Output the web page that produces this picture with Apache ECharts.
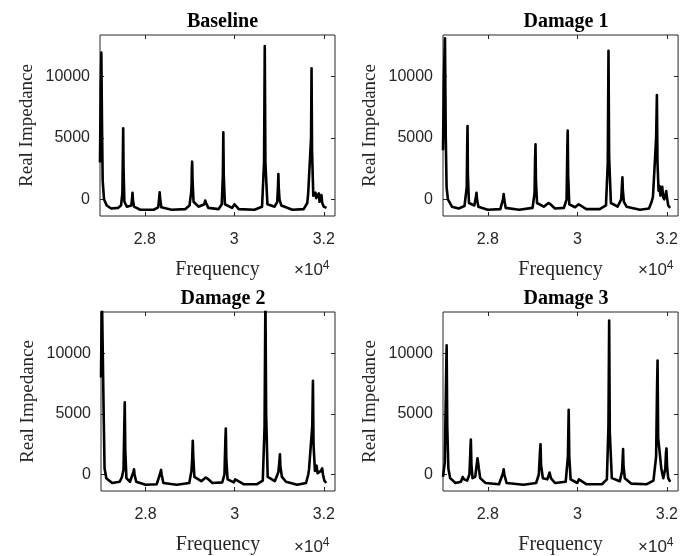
<!DOCTYPE html>
<html>
<head>
<meta charset="utf-8">
<script src="https://cdn.jsdelivr.net/npm/echarts@6/dist/echarts.min.js"></script>
<style>html,body{margin:0;padding:0;background:#fff}#c{width:681px;height:556px}</style>
</head>
<body>
<div id="c"></div>
<script>
const titles = ['Baseline', 'Damage 1', 'Damage 2', 'Damage 3'];
const xTicks = [28000, 30000, 32000];
const yTicks = [0, 5000, 10000];

const baselineFreq = [27000,27015,27030,27045,27060,27090,27150,27250,27400,27470,27500,27512,27518,27526,27545,27600,27700,27720,27726,27735,27760,27900,28200,28300,28325,28333,28343,28370,28600,28900,29000,29035,29045,29052,29059,29068,29090,29200,29330,29350,29358,29370,29420,29650,29720,29745,29755,29765,29790,29950,30005,30015,30025,30100,30450,30620,30665,30681,30695,30740,30900,30960,30978,30985,30993,31010,31050,31300,31550,31630,31651,31690,31715,31726,31737,31765,31800,31815,31830,31870,31889,31905,31930,31948,31965,32000,32060];
const baselineImp = [3000,9000,11960,6000,1500,0,-500,-750,-700,-500,500,4000,5790,2500,-200,-600,-500,200,540,0,-600,-850,-850,-650,200,570,100,-650,-850,-800,-500,500,1030,2500,3070,1500,-200,-600,-400,-100,-60,-300,-700,-800,-400,2000,5460,2000,-400,-700,-400,-280,-450,-800,-850,-600,3000,12500,3000,-400,-600,-200,1200,2060,1000,0,-500,-850,-800,-300,490,600,5000,10680,4000,300,350,540,100,100,490,-200,0,350,-300,-600,-700];

const damage1Freq = [27000,27020,27044,27062,27080,27110,27200,27350,27480,27530,27541,27548,27556,27580,27700,27735,27748,27760,27790,28000,28280,28340,28355,28368,28400,28700,29000,29045,29058,29066,29076,29100,29250,29355,29378,29400,29500,29700,29760,29777,29785,29795,29820,29950,30030,30044,30058,30200,30500,30640,30680,30696,30710,30750,30900,30980,30999,31007,31016,31040,31100,31400,31600,31660,31689,31730,31760,31777,31790,31815,31837,31855,31875,31896,31915,31940,31970,31985,32000,32030,32074];
const damage1Imp = [4000,10000,13130,5000,1000,0,-600,-750,-550,1000,4500,5980,2000,-300,-500,200,540,0,-600,-850,-800,0,430,0,-700,-850,-700,500,3500,4490,1500,-300,-600,-300,-190,-400,-750,-700,0,4200,5600,2000,-400,-650,-400,-380,-550,-800,-800,-500,3000,12120,3500,-300,-600,0,1300,1790,800,-200,-600,-850,-750,-200,210,300,5000,8510,3000,700,1080,300,500,1030,200,0,400,680,200,-500,-700];

const damage2Freq = [27000,27020,27045,27060,27080,27120,27250,27420,27470,27490,27505,27520,27533,27545,27570,27650,27725,27741,27752,27790,28000,28250,28320,28348,28360,28400,28700,28980,29030,29045,29052,29059,29070,29095,29250,29350,29370,29395,29500,29720,29770,29790,29800,29812,29840,29980,30010,30022,30040,30200,30500,30630,30670,30689,30705,30740,30900,30980,31005,31015,31025,31040,31060,31150,31400,31600,31650,31666,31700,31740,31755,31768,31800,31837,31860,31900,31935,31963,31980,32010,32052];
const damage2Imp = [8000,15000,15000,5000,500,-300,-700,-600,-200,-110,400,3500,5950,2000,-300,-600,200,430,0,-600,-850,-800,0,380,0,-700,-850,-700,300,1190,2000,2770,1500,-200,-550,-250,-160,-350,-700,-650,0,2800,3780,1200,-400,-650,-400,-380,-550,-800,-800,-500,4000,15000,5000,-200,-550,200,1200,1660,650,500,-200,-600,-850,-700,0,380,500,4000,7720,2500,300,730,100,100,300,510,0,-500,-700];

const damage3Freq = [27000,27040,27065,27081,27095,27120,27160,27280,27400,27440,27452,27470,27540,27590,27610,27622,27635,27660,27720,27755,27770,27785,27800,27830,27950,28250,28330,28355,28370,28420,28800,29080,29140,29165,29178,29190,29230,29330,29380,29392,29410,29500,29740,29790,29807,29820,29850,30000,30035,30044,30060,30200,30550,30660,30695,30711,30725,30770,30950,31000,31013,31022,31032,31060,31200,31550,31700,31760,31780,31792,31805,31840,31859,31875,31920,31945,31965,31980,31992,32005,32030,32074];
const damage3Imp = [-200,1000,7000,10660,4000,500,-300,-700,-600,-200,-110,-400,-500,0,1800,2880,800,-300,-200,900,1330,980,500,-300,-700,-800,0,430,0,-700,-850,-700,0,1800,2500,800,-300,-400,160,160,-300,-700,-600,1500,5330,1500,-400,-700,-400,-380,-550,-800,-800,-400,4000,12690,3500,-300,-550,300,1400,2090,700,-300,-750,-800,-500,1500,7000,9400,3000,1800,1960,500,-300,-370,500,1800,2150,600,-300,-600];

const freqs = [baselineFreq, damage1Freq, damage2Freq, damage3Freq];
const imps = [baselineImp, damage1Imp, damage2Imp, damage3Imp];

const grids = [
  {left: 100, top: 35, width: 235, height: 181},
  {left: 443, top: 35, width: 236, height: 181},
  {left: 101, top: 312, width: 234, height: 181},
  {left: 443, top: 312, width: 236, height: 181}
];
const AX = '#262626';
const XMIN = 27000, XMAX = 32250, YMIN = -1360, YMAX = 13400;

const option = {
  animation: false,
  backgroundColor: '#fff',
  title: [], grid: [], xAxis: [], yAxis: [], series: [], graphic: []
};

grids.forEach((g, i) => {
  option.grid.push(Object.assign({show: true, borderColor: AX, borderWidth: 1, backgroundColor: 'transparent', containLabel: false}, g));
  option.title.push({
    text: titles[i], left: g.left + g.width / 2, top: g.top - 28, textAlign: 'center',
    textStyle: {fontFamily: 'Liberation Serif', fontWeight: 'bold', fontSize: 20, color: '#000'}
  });
  option.xAxis.push({
    type: 'value', gridIndex: i, min: XMIN, max: XMAX, position: 'bottom',
    name: 'Frequency', nameLocation: 'middle', nameGap: 44,
    nameTextStyle: {fontFamily: 'Liberation Serif', fontSize: 20, color: AX},
    axisLine: {show: false, onZero: false},
    axisTick: {show: true, inside: true, length: 4, lineStyle: {color: AX}, customValues: xTicks},
    axisLabel: {show: true, margin: 16, fontFamily: 'Liberation Sans', fontSize: 16, color: AX, customValues: xTicks,
      formatter: v => String(v / 10000)},
    splitLine: {show: false}
  });
  option.xAxis.push({
    type: 'value', gridIndex: i, min: XMIN, max: XMAX, position: 'top',
    axisLine: {show: false, onZero: false},
    axisTick: {show: true, inside: true, length: 4, lineStyle: {color: AX}, customValues: xTicks},
    axisLabel: {show: false}, splitLine: {show: false}
  });
  option.yAxis.push({
    type: 'value', gridIndex: i, min: YMIN, max: YMAX, position: 'left',
    name: 'Real Impedance', nameLocation: 'middle', nameGap: 63, nameRotate: 90,
    nameTextStyle: {fontFamily: 'Liberation Serif', fontSize: 19, color: AX},
    axisLine: {show: false, onZero: false},
    axisTick: {show: true, inside: true, length: 4, lineStyle: {color: AX}, customValues: yTicks},
    axisLabel: {show: true, margin: 10, fontFamily: 'Liberation Sans', fontSize: 16, color: AX, customValues: yTicks,
      formatter: v => String(v)},
    splitLine: {show: false}
  });
  option.yAxis.push({
    type: 'value', gridIndex: i, min: YMIN, max: YMAX, position: 'right',
    axisLine: {show: false, onZero: false},
    axisTick: {show: true, inside: true, length: 4, lineStyle: {color: AX}, customValues: yTicks},
    axisLabel: {show: false}, splitLine: {show: false}
  });
  option.series.push({
    type: 'line', xAxisIndex: 2 * i, yAxisIndex: 2 * i, showSymbol: false, symbol: 'none',
    clip: true, lineStyle: {color: '#000', width: 2.6, join: 'round'}, silent: true,
    data: freqs[i].map((f, k) => [f, imps[i][k]])
  });
  option.graphic.push({
    type: 'text', left: g.left + g.width - 41, top: g.top + g.height + 44,
    style: {
      text: '×10{s|4}', fontFamily: 'Liberation Sans', fontSize: 17, fill: AX,
      rich: {s: {fontSize: 12, verticalAlign: 'top', padding: [0, 0, 9, 0], fontFamily: 'Liberation Sans', color: AX}}
    }
  });
});

const chart = echarts.init(document.getElementById('c'), null, {renderer: 'canvas'});
chart.setOption(option);
</script>
</body>
</html>
